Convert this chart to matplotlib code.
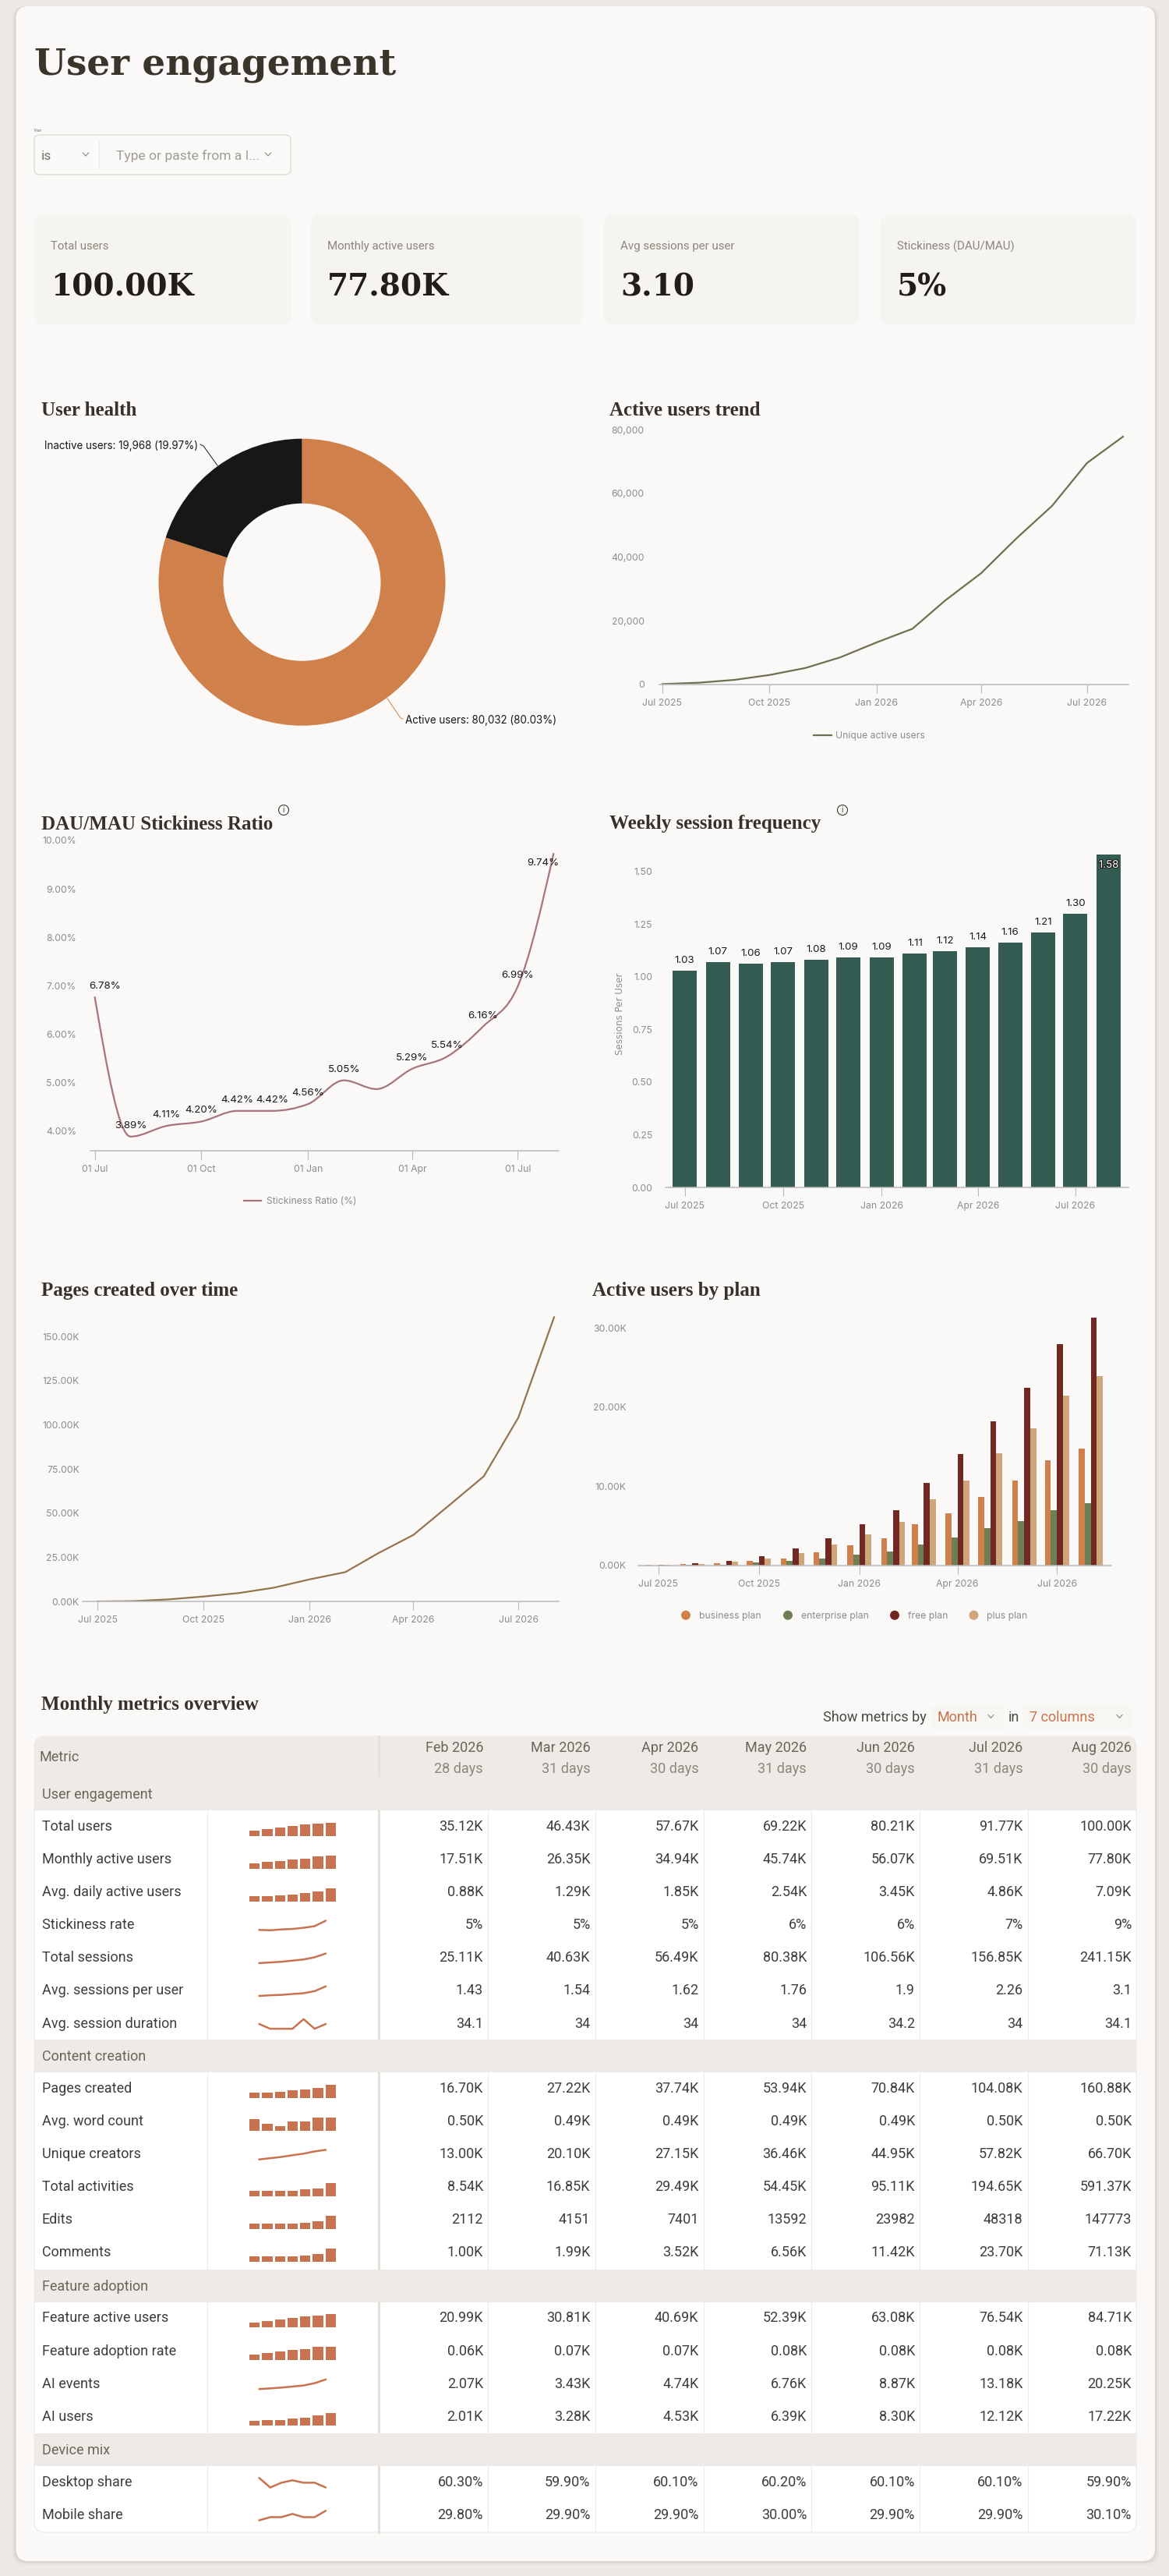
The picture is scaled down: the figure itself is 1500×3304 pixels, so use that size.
import numpy as np
import pandas as pd
import matplotlib
matplotlib.use('Agg')
import matplotlib.pyplot as plt
import matplotlib.dates as mdates
import matplotlib.patheffects as pe
from matplotlib.patches import FancyBboxPatch, Rectangle, Circle, PathPatch
from matplotlib.path import Path
from matplotlib.ticker import FuncFormatter

W, H = 1500, 3304
SERIF = 'Liberation Serif'
SLAB = 'DejaVu Serif'
SANS = 'Inter'
TABLE_FONT = 'Roboto'

PAGE_BG = '#ece9e4'
CARD_BG = '#faf9f7'
KPI_BG = '#f5f4f0'
TABLE_HEAD = '#efeae5'
TICK_COL = '#8b8b94'
AXIS_COL = '#b9b9bb'
RUST = '#c8734f'

plt.rcParams['font.family'] = [SANS, 'DejaVu Sans']

kpi_labels = ['Total users', 'Monthly active users', 'Avg sessions per user', 'Stickiness (DAU/MAU)']
kpi_values = ['100.00K', '77.80K', '3.10', '5%']

health_labels = ['Active users', 'Inactive users']
health_values = [80032, 19968]

months = pd.date_range('2025-07-01', periods=14, freq='MS')
quarter_ticks = pd.to_datetime(['2025-07-01', '2025-10-01', '2026-01-01', '2026-04-01', '2026-07-01'])
long_tick_labels = ['Jul 2025', 'Oct 2025', 'Jan 2026', 'Apr 2026', 'Jul 2026']
short_tick_labels = ['01 Jul', '01 Oct', '01 Jan', '01 Apr', '01 Jul']

active_users = [150, 570, 1470, 3000, 5200, 8550, 13200, 17510, 26350, 34940, 45740, 56070, 69510, 77800]
stickiness = [6.78, 3.89, 4.11, 4.20, 4.42, 4.42, 4.56, 5.05, 4.87, 5.29, 5.54, 6.16, 6.99, 9.74]
session_freq = [1.03, 1.07, 1.06, 1.07, 1.08, 1.09, 1.09, 1.11, 1.12, 1.14, 1.16, 1.21, 1.30, 1.58]
pages_created = [0.1, 0.3, 1.3, 2.9, 4.9, 7.9, 12.6, 16.7, 27.22, 37.74, 53.94, 70.84, 104.08, 160.88]

business_plan = [0.02, 0.15, 0.26, 0.56, 0.89, 1.64, 2.53, 3.41, 5.15, 6.56, 8.63, 10.7, 13.23, 14.74]
enterprise_plan = [0.01, 0.03, 0.10, 0.33, 0.56, 0.89, 1.31, 1.77, 2.63, 3.51, 4.69, 5.58, 6.99, 7.88]
free_plan = [0.02, 0.23, 0.56, 1.2, 2.1, 3.41, 5.15, 6.99, 10.37, 14.08, 18.25, 22.48, 27.93, 31.31]
plus_plan = [0.02, 0.13, 0.46, 0.89, 1.54, 2.63, 3.94, 5.48, 8.3, 10.7, 14.21, 17.36, 21.5, 23.89]
plan_names = ['business plan', 'enterprise plan', 'free plan', 'plus plan']
plan_colors = ['#d0804a', '#707e55', '#722822', '#cfa67a']

table_months = ['Feb 2026', 'Mar 2026', 'Apr 2026', 'May 2026', 'Jun 2026', 'Jul 2026', 'Aug 2026']
table_days = ['28 days', '31 days', '30 days', '31 days', '30 days', '31 days', '30 days']

section_names = ['User engagement', 'Content creation', 'Feature adoption', 'Device mix']

engagement_metrics = ['Total users', 'Monthly active users', 'Avg. daily active users', 'Stickiness rate',
                      'Total sessions', 'Avg. sessions per user', 'Avg. session duration']
engagement_values = [
    ['35.12K', '46.43K', '57.67K', '69.22K', '80.21K', '91.77K', '100.00K'],
    ['17.51K', '26.35K', '34.94K', '45.74K', '56.07K', '69.51K', '77.80K'],
    ['0.88K', '1.29K', '1.85K', '2.54K', '3.45K', '4.86K', '7.09K'],
    ['5%', '5%', '5%', '6%', '6%', '7%', '9%'],
    ['25.11K', '40.63K', '56.49K', '80.38K', '106.56K', '156.85K', '241.15K'],
    ['1.43', '1.54', '1.62', '1.76', '1.9', '2.26', '3.1'],
    ['34.1', '34', '34', '34', '34.2', '34', '34.1'],
]
engagement_sparks = [
    ('bar', [38, 50, 60, 74, 84, 94, 100]),
    ('bar', [39, 49, 57, 69, 78, 92, 100]),
    ('bar', [39, 43, 47, 55, 65, 78, 100]),
    ('line', [4, 0, 9, 14, 26, 43, 100]),
    ('line', [0, 7, 14, 26, 38, 61, 100]),
    ('line', [0, 7, 11, 20, 28, 50, 100]),
    ('line', [50, 0, 0, 0, 100, 0, 50]),
]

content_metrics = ['Pages created', 'Avg. word count', 'Unique creators', 'Total activities', 'Edits', 'Comments']
content_values = [
    ['16.70K', '27.22K', '37.74K', '53.94K', '70.84K', '104.08K', '160.88K'],
    ['0.50K', '0.49K', '0.49K', '0.49K', '0.49K', '0.50K', '0.50K'],
    ['13.00K', '20.10K', '27.15K', '36.46K', '44.95K', '57.82K', '66.70K'],
    ['8.54K', '16.85K', '29.49K', '54.45K', '95.11K', '194.65K', '591.37K'],
    ['2112', '4151', '7401', '13592', '23982', '48318', '147773'],
    ['1.00K', '1.99K', '3.52K', '6.56K', '11.42K', '23.70K', '71.13K'],
]
content_sparks = [
    ('bar', [38, 41, 46, 56, 62, 77, 100]),
    ('bar', [87, 49, 33, 67, 67, 100, 100]),
    ('line', [0, 13, 26, 44, 60, 84, 100]),
    ('bar', [39, 42, 42, 42, 50, 58, 100]),
    ('bar', [41, 41, 41, 44, 49, 59, 100]),
    ('bar', [42, 42, 42, 42, 47, 58, 100]),
]

feature_metrics = ['Feature active users', 'Feature adoption rate', 'AI events', 'AI users']
feature_values = [
    ['20.99K', '30.81K', '40.69K', '52.39K', '63.08K', '76.54K', '84.71K'],
    ['0.06K', '0.07K', '0.07K', '0.08K', '0.08K', '0.08K', '0.08K'],
    ['2.07K', '3.43K', '4.74K', '6.76K', '8.87K', '13.18K', '20.25K'],
    ['2.01K', '3.28K', '4.53K', '6.39K', '8.30K', '12.12K', '17.22K'],
]
feature_sparks = [
    ('bar', [38, 49, 59, 72, 82, 92, 100]),
    ('bar', [40, 57, 65, 81, 86, 100, 100]),
    ('line', [0, 7, 15, 26, 37, 61, 100]),
    ('bar', [38, 41, 46, 54, 64, 77, 100]),
]

device_metrics = ['Desktop share', 'Mobile share']
device_values = [
    ['60.30%', '59.90%', '60.10%', '60.20%', '60.10%', '60.10%', '59.90%'],
    ['29.80%', '29.90%', '29.90%', '30.00%', '29.90%', '29.90%', '30.10%'],
]
device_sparks = [
    ('line', [100, 0, 50, 75, 50, 50, 0]),
    ('line', [0, 33, 33, 67, 33, 33, 100]),
]

fig = plt.figure(figsize=(W / 100, H / 100), dpi=100, facecolor=PAGE_BG)

# full page axes in pixel units, y going down
bg = fig.add_axes([0, 0, 1, 1], zorder=0)
bg.set_xlim(0, W)
bg.set_ylim(H, 0)
bg.axis('off')


def put(x, yc, s, px, color='#3b3a36', ha='left', family=SANS, weight='normal', **kw):
    return bg.text(x, yc + 0.36 * px, s, fontsize=px * 0.72, color=color, ha=ha, va='baseline',
                   family=family, weight=weight, **kw)


def round_box(x0, y0, x1, y1, r, color, ec='none', lw=0, alpha=1.0, z=1):
    p = FancyBboxPatch((x0, y0), x1 - x0, y1 - y0, boxstyle=f'round,pad=0,rounding_size={r}',
                       fc=color, ec=ec, lw=lw, alpha=alpha, zorder=z)
    bg.add_patch(p)


def heading(x, baseline, s):
    bg.text(x, baseline, s, fontsize=25 * 0.72, color='#36322b', family=SERIF, weight='bold', va='baseline', zorder=3)


def chevron(x, y, color='#8a8780'):
    bg.plot([x - 3.5, x, x + 3.5], [y - 2, y + 2, y - 2], color=color, lw=0.8, zorder=3)


def info_icon(x, y):
    bg.add_patch(Circle((x, y), 6.5, fc='none', ec='#3b3a36', lw=0.8, zorder=3))
    bg.text(x, y + 0.3, 'i', fontsize=7, color='#3b3a36', ha='center', va='center', zorder=3)


def chart_axes(left, right, top, bottom, x_first, x_last, ylim, tick_pad, ticklabels=long_tick_labels):
    ax = fig.add_axes([left / W, 1 - bottom / H, (right - left) / W, (bottom - top) / H], zorder=2)
    ax.patch.set_alpha(0)
    per_day = (x_last - x_first) / (months[-1] - months[0]).days
    ax.set_xlim(months[0] - pd.Timedelta(days=(x_first - left) / per_day),
                months[-1] + pd.Timedelta(days=(right - x_last) / per_day))
    ax.set_ylim(*ylim)
    for side in ['top', 'left', 'right']:
        ax.spines[side].set_visible(False)
    ax.spines['bottom'].set_color(AXIS_COL)
    ax.spines['bottom'].set_linewidth(1.1)
    ax.set_xticks(quarter_ticks)
    ax.set_xticklabels(ticklabels)
    ax.tick_params(axis='x', length=8, width=0.8, color=AXIS_COL, labelcolor=TICK_COL, labelsize=8.8, pad=5)
    ax.tick_params(axis='y', length=0, labelcolor=TICK_COL, labelsize=8.8, pad=tick_pad)
    ax.grid(axis='y', color='#f8f7f4', lw=0.8)
    ax.set_axisbelow(True)
    return ax, per_day


def monotone_path(x, y):
    # same curve shape as a monotone cubic, written as bezier segments
    x = np.asarray(x, dtype=float)
    y = np.asarray(y, dtype=float)
    h = np.diff(x)
    s = np.diff(y) / h
    m = np.zeros(len(x))
    for i in range(1, len(x) - 1):
        p = (s[i - 1] * h[i] + s[i] * h[i - 1]) / (h[i - 1] + h[i])
        m[i] = (np.sign(s[i - 1]) + np.sign(s[i])) * min(abs(s[i - 1]), abs(s[i]), 0.5 * abs(p))
    m[0] = (3 * s[0] - m[1]) / 2
    m[-1] = (3 * s[-1] - m[-2]) / 2
    verts = [(x[0], y[0])]
    codes = [Path.MOVETO]
    for i in range(len(h)):
        verts += [(x[i] + h[i] / 3, y[i] + m[i] * h[i] / 3),
                  (x[i + 1] - h[i] / 3, y[i + 1] - m[i + 1] * h[i] / 3),
                  (x[i + 1], y[i + 1])]
        codes += [Path.CURVE4] * 3
    return Path(verts, codes)


# page card
for grow, a in [(5, 0.05), (3, 0.07), (1.5, 0.10)]:
    round_box(20.5 - grow, 8, 1482 + grow, 3285 + grow, 16, '#8d8678', alpha=a, z=0.5)
round_box(20.5, 8, 1482, 3285, 16, CARD_BG, z=1)

bg.text(44, 95, 'User engagement', fontsize=47 * 0.72, color='#3a352b', family=SLAB, weight='bold', va='baseline', zorder=3)

# filter
put(44, 167, 'Plan', 5, color='#6b6760', zorder=3)
round_box(44, 173, 373, 224, 7, '#fbfaf8', ec='#dedbd5', lw=1, z=2)
bg.plot([127, 127], [181, 216], color='#ecebe7', lw=0.8, zorder=3)
put(53, 199, 'is', 17.5, color='#74716a', family=TABLE_FONT, zorder=3)
chevron(110, 198)
put(149, 199, 'Type or paste from a l...', 17.5, color='#a09d96', family=TABLE_FONT, zorder=3)
chevron(344, 198)

# kpi cards
kpi_x = [(44, 373), (399, 748), (775, 1103), (1130, 1458)]
for (x0, x1), lab, val in zip(kpi_x, kpi_labels, kpi_values):
    round_box(x0, 275, x1, 417, 14, KPI_BG, z=2)
    put(x0 + 21, 315, lab, 15, color='#8c867c', family=TABLE_FONT, zorder=3)
    bg.text(x0 + 21, 380, val, fontsize=39 * 0.72, color='#231d17', family=SLAB, weight='bold', va='baseline', zorder=3)

# donut
heading(53, 533, 'User health')
cx, cy, r_out, r_in = 387.5, 746.7, 184, 101
ax = fig.add_axes([(cx - r_out) / W, 1 - (cy + r_out) / H, 2 * r_out / W, 2 * r_out / H], zorder=2)
ax.pie(health_values, colors=['#d0804a', '#191715'], startangle=90, counterclock=False, radius=1,
       wedgeprops={'width': (r_out - r_in) / r_out})
ax.set_xlim(-1, 1)
ax.set_ylim(-1, 1)
put(57, 571, f'{health_labels[1]}: {health_values[1]:,} ({health_values[1] / 1000:.2f}%)', 13.4, color='#1c1a18', zorder=3)
bg.plot([257, 261, 279], [570, 572, 597], color='#191715', lw=0.7, zorder=1.5)
put(520, 923, f'{health_labels[0]}: {health_values[0]:,} ({health_values[0] / 1000:.2f}%)', 13.4, color='#1c1a18', zorder=3)
bg.plot([497, 514, 517], [896, 921, 922], color='#d0804a', lw=0.7, zorder=1.5)

# active users trend
heading(782.5, 533, 'Active users trend')
ax, _ = chart_axes(846, 1448, 551, 878, 850, 1441, (0, 80000), 14)
ax.plot(months, active_users, color='#6f7052', lw=1.6)
ax.set_yticks([0, 20000, 40000, 60000, 80000])
ax.yaxis.set_major_formatter(FuncFormatter(lambda v, _: f'{int(v):,}'))
bg.plot([1044, 1067], [943, 943], color='#6f7052', lw=1.6, zorder=3)
put(1072, 943, 'Unique active users', 12.2, color=TICK_COL, zorder=3)

# stickiness
heading(53, 1063.5, 'DAU/MAU Stickiness Ratio')
info_icon(364, 1039)
ax, _ = chart_axes(116, 717, 1078, 1476.4, 121.5, 710.5, (3.59, 10), 13, short_tick_labels)
x_num = mdates.date2num(months)
ax.add_patch(PathPatch(monotone_path(x_num, stickiness), fc='none', ec='#a8737f', lw=1.6, clip_on=False))
ax.set_yticks([4, 5, 6, 7, 8, 9, 10])
ax.yaxis.set_major_formatter(FuncFormatter(lambda v, _: f'{v:.2f}%'))
label_shift = {0: (13.5, 13), 13: (-13.5, -13)}
for i, (d, v) in enumerate(zip(months, stickiness)):
    # March has no label in the reference
    if i == 8:
        continue
    dx, dy = label_shift.get(i, (0, 14))
    ax.annotate(f'{v:.2f}%', (d, v), xytext=(dx, dy), textcoords='offset pixels', ha='center', va='center',
                fontsize=9.6, color='#1c1a18', annotation_clip=False)
bg.plot([313, 335], [1540, 1540], color='#a8737f', lw=1.6, zorder=3)
put(342, 1540, 'Stickiness Ratio (%)', 12.2, color=TICK_COL, zorder=3)

# weekly session frequency
heading(782.5, 1063.5, 'Weekly session frequency')
info_icon(1081, 1039)
ax, per_day = chart_axes(854, 1448, 1090.5, 1523, 878.5, 1422.5, (0, 1.6), 12)
ax.bar(months, session_freq, width=31 / per_day, color='#355c52')
ax.set_yticks(np.arange(0, 1.51, 0.25))
ax.yaxis.set_major_formatter(FuncFormatter(lambda v, _: f'{v:.2f}'))
ax.grid(False)
for d, v in zip(months[:-1], session_freq[:-1]):
    ax.annotate(f'{v:.2f}', (d, v), xytext=(0, 13), textcoords='offset pixels', ha='center', va='center',
                fontsize=9.6, color='#1c1a18')
t = ax.annotate(f'{session_freq[-1]:.2f}', (months[-1], session_freq[-1]), xytext=(0, -14), textcoords='offset pixels',
                ha='center', va='center', fontsize=9.6, color='white')
t.set_path_effects([pe.withStroke(linewidth=1.6, foreground='#1c1a18')])
bg.text(795.5, 1300, 'Sessions Per User', rotation=90, fontsize=8.6, color=TICK_COL, ha='center', va='center',
        family='DejaVu Sans', zorder=3)

# pages created
heading(53, 1662, 'Pages created over time')
ax, _ = chart_axes(106, 717, 1680, 2054.3, 125, 711, (0, 165), 3)
ax.plot(months, pages_created, color='#93754f', lw=1.6)
ax.set_yticks(np.arange(0, 151, 25))
ax.yaxis.set_major_formatter(FuncFormatter(lambda v, _: f'{v:.2f}K'))

# active users by plan
heading(760.5, 1662, 'Active users by plan')
ax, per_day = chart_axes(819, 1425.6, 1683, 2007.7, 844.7, 1399.6, (0, 32), 11)
bar_w = 7.7 / per_day
for k, series in enumerate([business_plan, enterprise_plan, free_plan, plus_plan]):
    offs = pd.to_timedelta((k - 1.5) * bar_w, unit='D')
    ax.bar(months + offs, series, width=bar_w, color=plan_colors[k])
ax.set_yticks([0, 10, 20, 30])
ax.yaxis.set_major_formatter(FuncFormatter(lambda v, _: f'{v:.2f}K'))
for name, col, dot_x, text_x in zip(plan_names, plan_colors, [880, 1011, 1148, 1249.5], [897, 1027.5, 1165, 1266]):
    bg.add_patch(Circle((dot_x, 2071.7), 6, fc=col, ec='none', zorder=3))
    put(text_x, 2072, name, 12.2, color=TICK_COL, zorder=3)

# table
heading(53, 2193, 'Monthly metrics overview')
put(1056, 2201.7, 'Show metrics by', 18, color='#4b4945', family=TABLE_FONT, zorder=3)
round_box(1194, 2187, 1289, 2217.7, 4, '#f7f6f3', z=1.5)
put(1202.6, 2201.7, 'Month', 18, color=RUST, family=TABLE_FONT, zorder=3)
chevron(1271.5, 2201.5)
put(1293.5, 2201.7, 'in', 18, color='#4b4945', family=TABLE_FONT, zorder=3)
round_box(1312.7, 2187, 1453, 2217.7, 4, '#f7f6f3', z=1.5)
put(1321, 2201.7, '7 columns', 18, color=RUST, family=TABLE_FONT, zorder=3)
chevron(1436.6, 2201.5)

T_L, T_R, T_TOP, T_BOT = 44, 1458, 2227, 3248
col_edges = [486, 626, 763.5, 902.5, 1041, 1180, 1318.5, 1458]
round_box(T_L, T_TOP, T_R, T_BOT, 14, '#ffffff', ec='#eceae6', lw=0.8, z=1.2)
round_box(T_L, T_TOP, T_R, T_TOP + 40, 14, TABLE_HEAD, z=1.3)
bg.add_patch(Rectangle((T_L, T_TOP + 20), T_R - T_L, 2279 - T_TOP - 20, fc=TABLE_HEAD, ec='none', zorder=1.3))
put(50, 2253, 'Metric', 18, color='#6b6459', family=TABLE_FONT, zorder=3)
for i, (m, d) in enumerate(zip(table_months, table_days)):
    put(col_edges[i + 1] - 6, 2240.7, m, 18, color='#6b6459', ha='right', family=TABLE_FONT, zorder=3)
    put(col_edges[i + 1] - 6, 2267.7, d, 18, color='#8c867c', ha='right', family=TABLE_FONT, zorder=3)

section_tops = [2279, 2616, 2911, 3121]
section_bottoms = [2322, 2658, 2952.5, 3163]
section_rows = [
    (engagement_metrics, engagement_values, engagement_sparks),
    (content_metrics, content_values, content_sparks),
    (feature_metrics, feature_values, feature_sparks),
    (device_metrics, device_values, device_sparks),
]
ROW_H = 42.1

# grid lines sit under the section bands
bg.plot([265.5, 265.5], [T_TOP, T_BOT], color='#ececea', lw=0.8, zorder=1.25)
bg.plot([486, 486], [T_TOP, T_BOT], color='#e4e1da', lw=2.2, zorder=1.4)
for e in col_edges[1:-1]:
    bg.plot([e, e], [T_TOP, T_BOT], color='#ececea', lw=0.8, zorder=1.25)

for name, top, bot, (metrics, values, sparks) in zip(section_names, section_tops, section_bottoms, section_rows):
    bg.add_patch(Rectangle((T_L, top), T_R - T_L, bot - top, fc=TABLE_HEAD, ec='none', zorder=1.5))
    put(53.6, (top + bot) / 2, name, 18, color='#6b6459', family=TABLE_FONT, zorder=3)
    for i, (metric, row, (kind, spark)) in enumerate(zip(metrics, values, sparks)):
        yc = bot + 19.5 + ROW_H * i
        put(53.6, yc, metric, 18, color='#3f3d3a', family=TABLE_FONT, zorder=3)
        for j, val in enumerate(row):
            put(col_edges[j + 1] - 6, yc, val, 18, color='#3f3d3a', ha='right', family=TABLE_FONT, zorder=3)
        if kind == 'bar':
            sp = fig.add_axes([320 / W, 1 - (yc + 13) / H, 111 / W, 16.7 / H], zorder=2)
            sp.bar(range(7), spark, width=0.83, color=RUST)
            sp.set_xlim(-0.415, 6.415)
        else:
            sp = fig.add_axes([332.5 / W, 1 - (yc + 8) / H, 85.5 / W, 12.3 / H], zorder=2)
            sp.plot(range(7), spark, color=RUST, lw=1.8, clip_on=False, solid_capstyle='round')
            sp.set_xlim(0, 6)
        sp.set_ylim(0, 100)
        sp.axis('off')

fig.savefig('out.png', dpi=100, facecolor=PAGE_BG)
